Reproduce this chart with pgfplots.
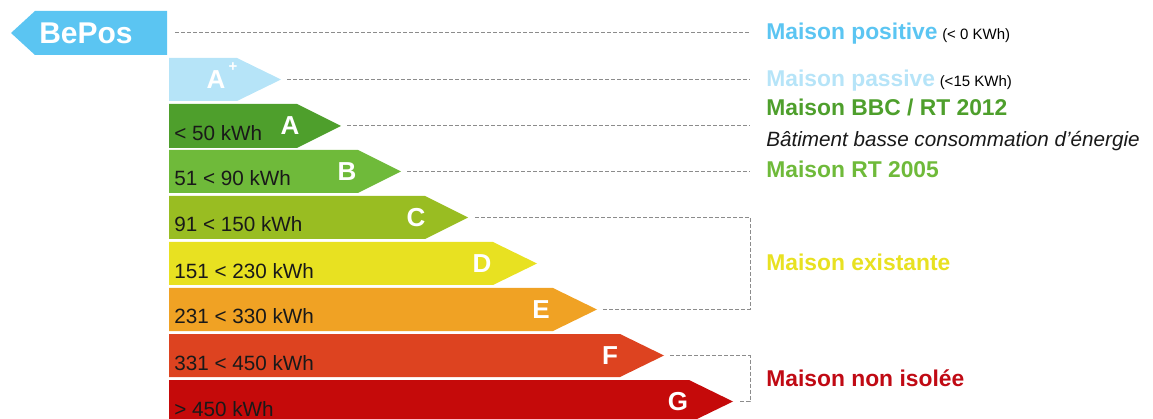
\documentclass[border=0pt]{standalone}
\usepackage{pgfplots}
\pgfplotsset{compat=1.18}
\usepackage{fontspec}
\setmainfont{Liberation Sans}
\definecolor{cBePos}{HTML}{5BC5F2}
\definecolor{cAp}{HTML}{B6E4F8}
\definecolor{cA}{HTML}{4E9F2C}
\definecolor{cB}{HTML}{6FBA3A}
\definecolor{cC}{HTML}{99BD22}
\definecolor{cD}{HTML}{E8E121}
\definecolor{cE}{HTML}{F0A224}
\definecolor{cF}{HTML}{DD4320}
\definecolor{cG}{HTML}{C50A0A}
\definecolor{cRed}{HTML}{C00A14}
\definecolor{cDash}{HTML}{8C8C8C}
\newcommand{\fs}[1]{\fontsize{#1pt}{#1pt}\selectfont}
\begin{document}
\begin{tikzpicture}
\begin{axis}[x=0.6pt, y=0.6pt, xmin=0, xmax=1153, ymin=0, ymax=419,
  y dir=reverse, hide axis, clip=false,
  dl/.style={cDash, line width=0.6pt, dash pattern=on 2.4pt off 1.2pt}]
\path (axis cs:0,0) rectangle (axis cs:1153,419);
% arrows
\addplot[fill=cBePos, draw=none] coordinates {(167,11) (35,11) (11,33) (35,55) (167,55)} --cycle;
\addplot[fill=cAp, draw=none] coordinates {(169,58) (237,58) (281,79.5) (237,101) (169,101)} --cycle;
\addplot[fill=cA, draw=none] coordinates {(169,104) (297,104) (341,126) (297,148) (169,148)} --cycle;
\addplot[fill=cB, draw=none] coordinates {(169,150) (358,150) (401,171.5) (358,193) (169,193)} --cycle;
\addplot[fill=cC, draw=none] coordinates {(169,196) (425,196) (468,217.5) (425,239) (169,239)} --cycle;
\addplot[fill=cD, draw=none] coordinates {(169,242) (493,242) (537,263.5) (493,285) (169,285)} --cycle;
\addplot[fill=cE, draw=none] coordinates {(169,288) (553,288) (597,309.5) (553,331) (169,331)} --cycle;
\addplot[fill=cF, draw=none] coordinates {(169,334) (620,334) (664,355.5) (620,377) (169,377)} --cycle;
\addplot[fill=cG, draw=none] coordinates {(169,380) (689,380) (733,401.5) (697,419) (169,419)} --cycle;
% dashed leaders
\addplot[dl] coordinates {(175,33) (750,33)};
\addplot[dl] coordinates {(287,79.5) (750,79.5)};
\addplot[dl] coordinates {(347,126) (750,126)};
\addplot[dl] coordinates {(407,171.5) (750,171.5)};
\addplot[dl] coordinates {(475,217.5) (750,217.5) (750,309.5) (603,309.5)};
\addplot[dl] coordinates {(670,355.5) (750,355.5) (750,401.5) (739,401.5)};
% arrow texts
\node[white, font=\bfseries\fs{18}, inner sep=0, anchor=center] at (axis cs:86,33) {BePos};
\node[white, font=\bfseries\fs{15.6}, inner sep=0, anchor=center] at (axis cs:216,80) {A};
\node[white, font=\bfseries\fs{9}, inner sep=0, anchor=center] at (axis cs:233,67) {+};
\node[white, font=\bfseries\fs{15.6}, inner sep=0, anchor=center] at (axis cs:290,126) {A};
\node[white, font=\bfseries\fs{15.6}, inner sep=0, anchor=center] at (axis cs:347,171.5) {B};
\node[white, font=\bfseries\fs{15.6}, inner sep=0, anchor=center] at (axis cs:416,217.5) {C};
\node[white, font=\bfseries\fs{15.6}, inner sep=0, anchor=center] at (axis cs:482,263.5) {D};
\node[white, font=\bfseries\fs{15.6}, inner sep=0, anchor=center] at (axis cs:541,309.5) {E};
\node[white, font=\bfseries\fs{15.6}, inner sep=0, anchor=center] at (axis cs:610,355.5) {F};
\node[white, font=\bfseries\fs{15.6}, inner sep=0, anchor=center] at (axis cs:678,401.5) {G};
% range labels
\begin{scope}[every node/.style={inner sep=0, anchor=base west, font=\fs{12.4}, text=black!90}]
\node at (axis cs:174,141) {< 50 kWh};
\node at (axis cs:174,186) {51 < 90 kWh};
\node at (axis cs:174,232) {91 < 150 kWh};
\node at (axis cs:174,278) {151 < 230 kWh};
\node at (axis cs:174,324) {231 < 330 kWh};
\node at (axis cs:174,370) {331 < 450 kWh};
\node at (axis cs:174,416) {> 450 kWh};
\end{scope}
% right labels
\begin{scope}[every node/.style={inner sep=0, anchor=base west}]
\node at (axis cs:766,40) {{\bfseries\fs{13.7}\color{cBePos}Maison positive} {\fs{9}(< 0 KWh)}};
\node at (axis cs:766,87) {{\bfseries\fs{13.7}\color{cAp}Maison passive} {\fs{9}(<15 KWh)}};
\node[font=\bfseries\fs{13.7}, text=cA] at (axis cs:766,116) {Maison BBC / RT 2012};
\node[font=\itshape\fs{12.4}, text=black!90] at (axis cs:766,147) {Bâtiment basse consommation d’énergie};
\node[font=\bfseries\fs{13.7}, text=cB] at (axis cs:766,178) {Maison RT 2005};
\node[font=\bfseries\fs{13.7}, text=cD] at (axis cs:766,271) {Maison existante};
\node[font=\bfseries\fs{13.7}, text=cRed] at (axis cs:766,386) {Maison non isolée};
\end{scope}
\end{axis}
\end{tikzpicture}
\end{document}
